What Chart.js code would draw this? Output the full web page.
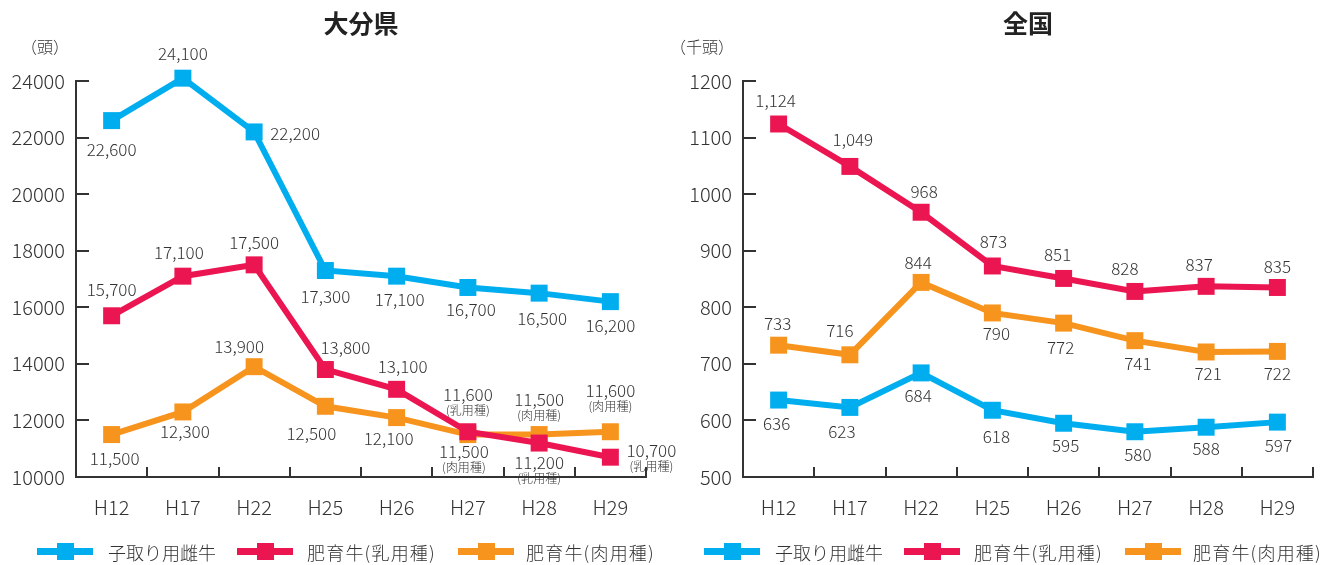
<!DOCTYPE html>
<html>
<head>
<meta charset="utf-8">
<script src="https://cdn.jsdelivr.net/npm/chart.js@4.4.1/dist/chart.umd.min.js"></script>
<style>
  html, body { margin: 0; padding: 0; background: #fff; }
  body { width: 1336px; height: 565px; position: relative; overflow: hidden;
         font-family: "Noto Sans CJK JP", "Noto Sans", sans-serif; color: #333; }
  .panel { position: absolute; top: 0; width: 668px; height: 565px; }
  .panel canvas { position: absolute; left: 0; top: 0; }
  .title { position: absolute; top: 6px; left: 0; width: 722px; text-align: center;
           font-size: 25px; font-weight: bold; color: #222; line-height: 32px; }
  .unit { position: absolute; top: 35px; font-size: 16px; font-weight: 300; line-height: 22px; color: #333; }
  .legend { position: absolute; top: 540px; left: 0; height: 24px; }
  .legend .item { position: absolute; top: 0; height: 24px; white-space: nowrap; }
  .legend .mark { position: absolute; left: 0; top: 8px; width: 56px; height: 7px; }
  .legend .mark i { position: absolute; left: 20px; top: -5px; width: 17px; height: 17px; background: inherit; }
  .legend .txt { position: absolute; top: 0; font-size: 18px; font-weight: 300; line-height: 24px; color: #333; }
  .legend .txt.p { letter-spacing: 1.2px; }
</style>
</head>
<body>
<div class="panel" id="p1" style="left:0">
  <canvas id="c1" width="700" height="565"></canvas>
  <div class="title">大分県</div>
  <div class="unit" style="left:21px">（頭）</div>
  <div class="legend" id="lg1"></div>
</div>
<div class="panel" id="p2" style="left:667px">
  <canvas id="c2" width="668" height="565"></canvas>
  <div class="title">全国</div>
  <div class="unit" style="left:3px">（千頭）</div>
  <div class="legend" id="lg2"></div>
</div>
<script>
// ---- data ----
const years = ['H12', 'H17', 'H22', 'H25', 'H26', 'H27', 'H28', 'H29'];
const seriesNames = ['子取り用雌牛', '肥育牛(乳用種)', '肥育牛(肉用種)'];

// 大分県 (頭)
const oitaCows = [22600, 24100, 22200, 17300, 17100, 16700, 16500, 16200];
const oitaDairy = [15700, 17100, 17500, 13800, 13100, 11600, 11200, 10700];
const oitaBeef = [11500, 12300, 13900, 12500, 12100, 11500, 11500, 11600];
const oitaTicks = [10000, 12000, 14000, 16000, 18000, 20000, 22000, 24000];
// small notes under some labels
const oitaDairyNotes = ['', '', '', '', '', '(乳用種)', '(乳用種)', '(乳用種)'];
const oitaBeefNotes = ['', '', '', '', '', '(肉用種)', '(肉用種)', '(肉用種)'];

// 全国 (千頭)
const japanCows = [636, 623, 684, 618, 595, 580, 588, 597];
const japanDairy = [1124, 1049, 968, 873, 851, 828, 837, 835];
const japanBeef = [733, 716, 844, 790, 772, 741, 721, 722];
const japanTicks = [500, 600, 700, 800, 900, 1000, 1100, 1200];

const colors = ['#00AEEF', '#EB1651', '#F7941D'];
const FONT = '"Noto Sans CJK JP", "Noto Sans", sans-serif';
const INK = '#333';

// label offsets from the marker centre [dx, dy]
const oitaLabelPos = [
  [[0, 29], [0, -25], [41, 2], [0, 26], [3, 23], [3, 22], [3, 25], [0, 24]],
  [[0, -26], [-4, -24], [0, -22], [20, -22], [6, -23], [0, -37], [0, 19], [41, -7]],
  [[3, 24], [2, 20], [-15, -20], [-14, 27], [-8, 21], [-4, 17], [0, -35], [0, -41]]
];
const japanLabelPos = [
  [[-2, 23], [-8, 24], [-3, 23], [4, 26], [2, 22], [3, 23], [0, 21], [1, 23]],
  [[-3, -23], [3, -27], [3, -21], [1, -24], [-6, -24], [-10, -23], [-7, -22], [0, -21]],
  [[-1, -22], [-10, -24], [-3, -20], [4, 21], [-3, 24], [3, 23], [2, 22], [0, 22]]
];

function fmt(v) { return v.toLocaleString('en-US'); }

// tick marks pointing into the plot area
const innerTicks = {
  id: 'innerTicks',
  beforeDatasetsDraw(chart) {
    const { ctx, chartArea: a, scales } = chart;
    ctx.save();
    ctx.strokeStyle = INK;
    ctx.lineWidth = 2;
    ctx.beginPath();
    scales.y.ticks.forEach(t => {
      const y = Math.round(scales.y.getPixelForValue(t.value));
      ctx.moveTo(a.left, y);
      ctx.lineTo(a.left + 13, y);
    });
    const n = scales.x.ticks.length;
    const w = (a.right - a.left) / n;
    for (let i = 1; i <= n; i++) {
      const x = Math.round(a.left + w * i);
      ctx.moveTo(x, a.bottom);
      ctx.lineTo(x, a.bottom - 10);
    }
    ctx.stroke();
    ctx.restore();
  }
};

// value labels (with an optional small note underneath)
const valueLabels = {
  id: 'valueLabels',
  afterDatasetsDraw(chart, args, opts) {
    const { ctx } = chart;
    ctx.save();
    ctx.textAlign = 'center';
    ctx.textBaseline = 'middle';
    ctx.fillStyle = INK;
    chart.data.datasets.forEach((ds, di) => {
      const meta = chart.getDatasetMeta(di);
      meta.data.forEach((pt, i) => {
        const [dx, dy] = opts.pos[di][i];
        const note = ds.notes ? ds.notes[i] : '';
        const x = pt.x + dx, y = pt.y + dy;
        ctx.font = '300 17px ' + FONT;
        ctx.fillText(fmt(ds.data[i]), x, y);
        if (note) {
          ctx.font = '300 12px ' + FONT;
          ctx.fillText(note, x, y + 16);
        }
      });
    });
    ctx.restore();
  }
};

function makeChart(id, sets, notes, ticks, pos, padRight) {
  const datasets = sets.map((d, k) => ({
    label: seriesNames[k],
    data: d,
    notes: notes[k],
    borderColor: colors[k],
    backgroundColor: colors[k],
    borderWidth: 6,
    pointStyle: 'rect',
    pointRadius: 12,
    pointHoverRadius: 12,
    pointBorderWidth: 0,
    tension: 0,
    clip: false
  }));
  return new Chart(document.getElementById(id), {
    type: 'line',
    data: { labels: years, datasets },
    options: {
      responsive: false,
      animation: false,
      events: [],
      layout: { padding: { top: 81, right: padRight, left: 0, bottom: 0 } },
      plugins: {
        legend: { display: false },
        tooltip: { enabled: false },
        valueLabels: { pos }
      },
      scales: {
        x: {
          offset: true,
          grid: { display: true, drawOnChartArea: false, drawTicks: false, color: 'transparent' },
          border: { display: true, color: INK, width: 2 },
          ticks: { color: INK, font: { family: FONT, size: 20, weight: 300 }, padding: 18, maxRotation: 0 },
          afterFit(s) { s.height = 88; }
        },
        y: {
          min: ticks[0],
          max: ticks[ticks.length - 1],
          afterBuildTicks(s) { s.ticks = ticks.map(v => ({ value: v })); },
          grid: { display: true, drawOnChartArea: false, drawTicks: false, color: 'transparent' },
          border: { display: true, color: INK, width: 2 },
          ticks: { color: INK, font: { family: FONT, size: 20, weight: 300 }, padding: 11, callback: v => String(v) },
          afterFit(s) { s.width = 76; }
        }
      }
    },
    plugins: [innerTicks, valueLabels]
  });
}

makeChart('c1', [oitaCows, oitaDairy, oitaBeef], [null, oitaDairyNotes, oitaBeefNotes], oitaTicks, oitaLabelPos, 54);
makeChart('c2', [japanCows, japanDairy, japanBeef], [null, null, null], japanTicks, japanLabelPos, 22);

// legends
const legendX = [[37, 108], [237, 307], [458, 526]];
['lg1', 'lg2'].forEach(id => {
  const box = document.getElementById(id);
  seriesNames.forEach((name, k) => {
    const item = document.createElement('div');
    item.className = 'item';
    item.style.left = legendX[k][0] + 'px';
    item.innerHTML = '<div class="mark" style="background:' + colors[k] + '"><i></i></div>' +
      '<div class="txt' + (k > 0 ? ' p' : '') + '" style="left:' + (legendX[k][1] - legendX[k][0]) + 'px">' + name + '</div>';
    box.appendChild(item);
  });
});
</script>
</body>
</html>
